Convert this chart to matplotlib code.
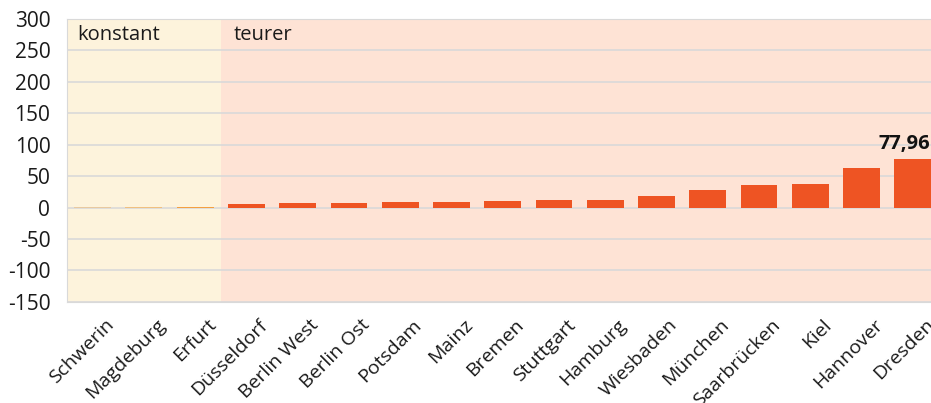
import matplotlib.pyplot as plt
import matplotlib.transforms as mtransforms

cities = ["Schwerin", "Magdeburg", "Erfurt", "Düsseldorf", "Berlin West", "Berlin Ost",
          "Potsdam", "Mainz", "Bremen", "Stuttgart", "Hamburg", "Wiesbaden", "München",
          "Saarbrücken", "Kiel", "Hannover", "Dresden"]
values = [0.3, 0.3, 1.0, 5.3, 6.9, 6.9, 8.5, 8.5, 10.0, 11.6, 11.8, 18.0, 27.5,
          35.4, 37.0, 62.6, 77.96]
bar_colors = ["#E8C9A0", "#F0C080", "#F4A040"] + ["#EE5423"] * 14
n_konstant = 3

plt.rcParams['font.family'] = ['Open Sans', 'DejaVu Sans']
plt.rcParams['axes.unicode_minus'] = False

fig = plt.figure(figsize=(9.31, 4.03), dpi=100)
ax = fig.add_axes([0.072, 0.251, 0.936, 0.702])

x = range(len(cities))
ax.axvspan(-0.5, n_konstant - 0.5, color="#FDF3DC", zorder=0, lw=0)
ax.axvspan(n_konstant - 0.5, len(cities) - 0.5, color="#FEE3D5", zorder=0, lw=0)
ax.bar(x, values, width=0.72, color=bar_colors, zorder=3)

ax.set_xlim(-0.5, len(cities) - 0.5)
ax.set_ylim(-150, 300)
ax.set_yticks(range(-150, 301, 50))
ax.yaxis.grid(True, color="#D9D9D9", lw=1.2, zorder=1)
ax.set_axisbelow(True)
for s in ax.spines.values():
    s.set_color("#D9D9D9")
ax.tick_params(length=0, labelsize=15, colors="#1a1a1a")
ax.tick_params(axis="y", pad=12)

ax.set_xticks(list(x))
ax.set_xticklabels(cities, rotation=45, ha="right", rotation_mode="anchor", fontsize=14)
ax.tick_params(axis="x", pad=10)
offset = mtransforms.ScaledTranslation(0.12, 0, fig.dpi_scale_trans)
for lbl in ax.get_xticklabels():
    lbl.set_transform(lbl.get_transform() + offset)

ax.text(-0.3, 275, "konstant", fontsize=14.5, va="center", color="#1a1a1a")
ax.text(n_konstant - 0.25, 275, "teurer", fontsize=14.5, va="center", color="#1a1a1a")
label_tr = mtransforms.blended_transform_factory(fig.transFigure, ax.transData)
ax.text(0.999, values[-1] + 8, "77,96", transform=label_tr, fontsize=14.5,
        fontweight="bold", ha="right", va="bottom", color="#111111")

fig.savefig("out.png", dpi=100)
